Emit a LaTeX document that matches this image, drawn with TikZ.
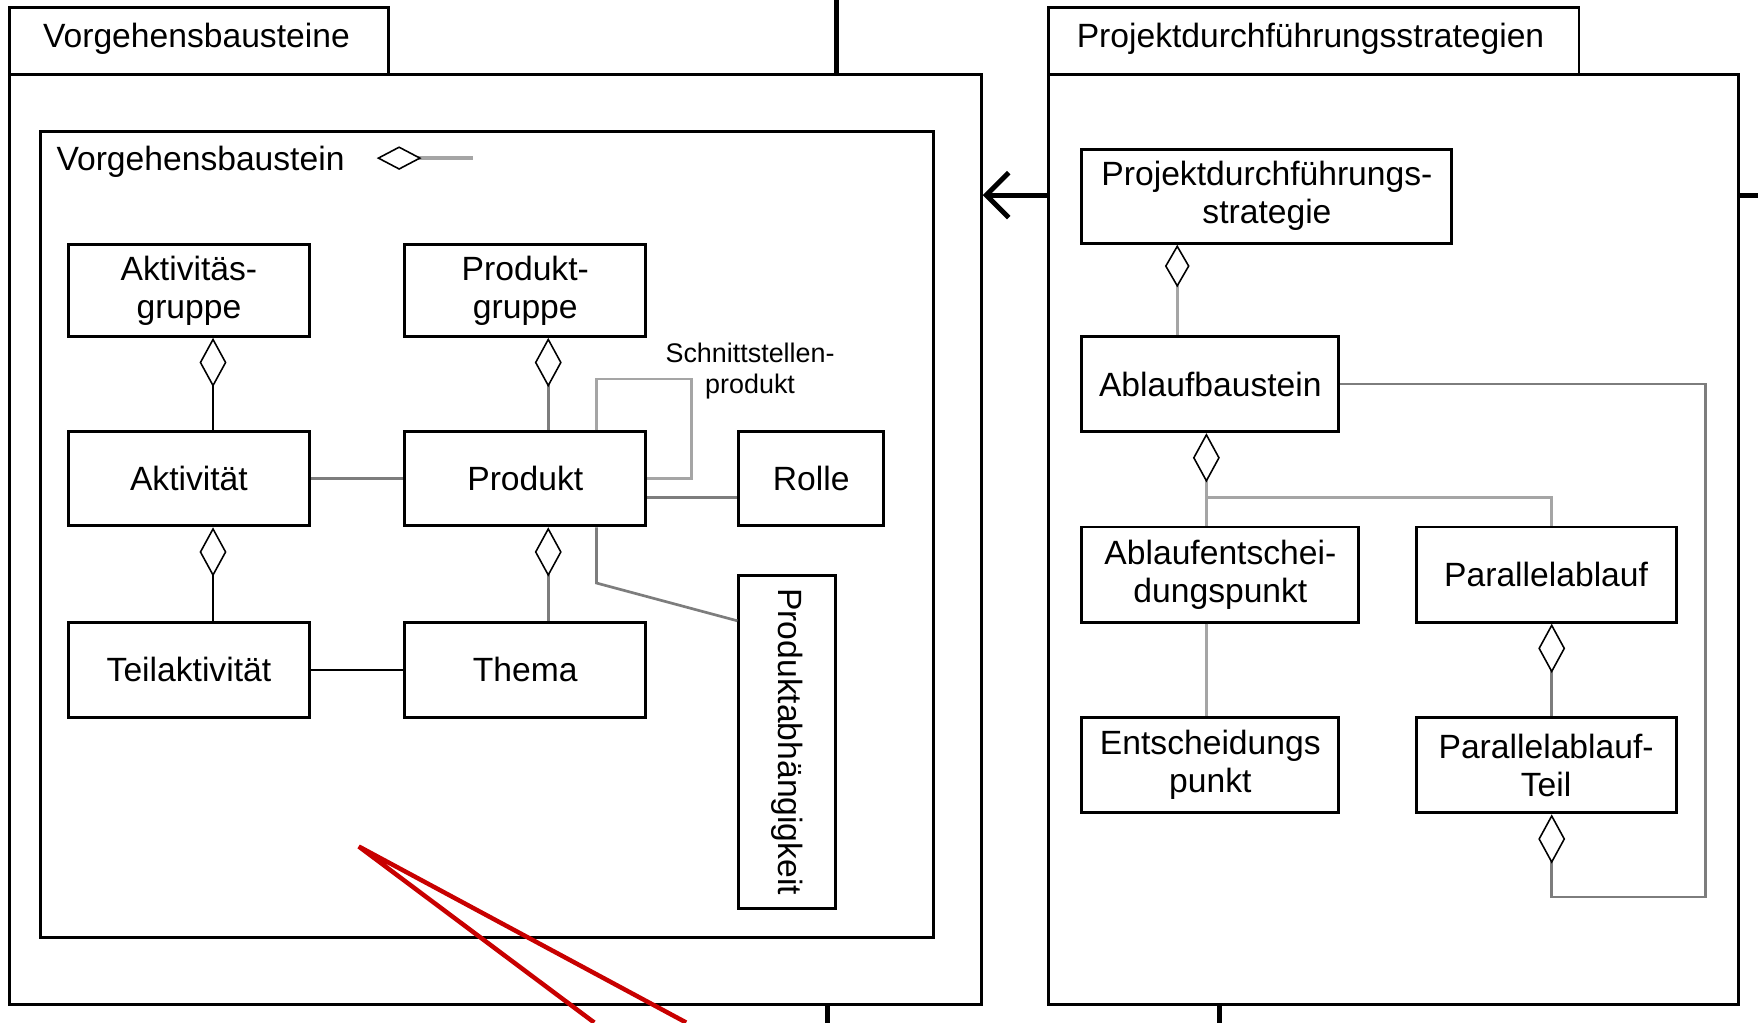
\documentclass[tikz,border=0pt]{standalone}
\usepackage{fontspec}
\usepackage{graphicx}
\setmainfont{Liberation Sans}
\usetikzlibrary{arrows.meta,calc}
\definecolor{midgray}{RGB}{125,125,125}
\definecolor{lightgray2}{RGB}{165,165,165}
\definecolor{redline}{RGB}{200,0,0}
\begin{document}
\begin{tikzpicture}[x=0.5pt,y=-0.5pt,
  box/.style={draw, line width=1.3pt, inner sep=0pt, align=center, font=\fontsize{15}{17}\selectfont},
  frame/.style={draw, line width=1.3pt, inner sep=0pt, anchor=north west},
  lbl/.style={inner sep=0pt, anchor=west, font=\fontsize{15}{17}\selectfont},
  blk/.style={line width=1.1pt, black},
  gry/.style={line width=1.2pt, midgray},
  lgry/.style={line width=1.2pt, lightgray2},
  agg/.style={{Diamond[open,length=22pt,width=12pt,line width=0.7pt,color=black]}-},
  aggs/.style={{Diamond[open,length=19pt,width=11pt,line width=0.7pt,color=black]}-},
  stub/.style={line width=2.2pt, black},
  redl/.style={line width=2pt, redline},
]
\useasboundingbox (0,0) rectangle (1568,912);

% packages
\node[frame, minimum width=169pt, minimum height=30pt] (ltab) at (7,5) {};
\node[lbl] (ltabl) at (38,34.5) {Vorgehensbausteine};
\node[frame, minimum width=433.5pt, minimum height=415pt] (lframe) at (7,65) {};
\node[frame, minimum width=398pt, minimum height=359.5pt] (inner) at (35,116) {};
\node[lbl] (innerl) at (50,144.5) {Vorgehensbaustein};
\coordinate (vbd) at (336,141);
\coordinate (vbe) at (422,141);
\draw[lgry, line width=1.6pt, {Diamond[open,length=20pt,width=10.5pt,line width=0.7pt,color=black]}-] (vbd) -- (vbe);

\node[frame, minimum width=236.5pt, minimum height=30pt] (rtab) at (934,5) {};
\node[lbl] (rtabl) at (960,34.5) {Projektdurchführungsstrategien};
\node[frame, minimum width=307.5pt, minimum height=415pt] (rframe) at (934,65) {};

% left boxes
\node[box, minimum width=107.5pt, minimum height=41pt] (AG) at (168.5,259) {Aktivitäs-\\gruppe};
\node[box, minimum width=107.5pt, minimum height=41pt] (PG) at (468.5,259) {Produkt-\\gruppe};
\node[box, minimum width=107.5pt, minimum height=42pt] (A) at (168.5,427) {Aktivität};
\node[box, minimum width=107.5pt, minimum height=42pt] (P) at (468.5,427) {Produkt};
\node[box, minimum width=64.5pt, minimum height=42pt] (R) at (723.5,427) {Rolle};
\node[box, minimum width=107.5pt, minimum height=42.5pt] (T) at (168.5,597.5) {Teilaktivität};
\node[box, minimum width=107.5pt, minimum height=42.5pt] (Th) at (468.5,597.5) {Thema};
\node[box, minimum width=43pt, minimum height=148.5pt] (PA) at (702,661.5) {\rotatebox{-90}{Produktabhängigkeit}};

% right boxes
\node[box, minimum width=165pt, minimum height=42pt] (S) at (1130,175) {Projektdurchführungs-\\strategie};
\node[box, minimum width=114.5pt, minimum height=42.5pt] (AB) at (1079.5,342.5) {Ablaufbaustein};
\node[box, minimum width=123.5pt, minimum height=42.5pt] (AE) at (1088.5,512.5) {Ablaufentschei-\\dungspunkt};
\node[box, minimum width=116pt, minimum height=42.5pt] (PL) at (1379,512.5) {Parallelablauf};
\node[box, minimum width=114.5pt, minimum height=42.5pt] (E) at (1079.5,682.5) {Entscheidungs\\punkt};
\node[box, minimum width=116pt, minimum height=42.5pt] (PT) at (1379,682.5) {Parallelablauf-\\Teil};

% left connectors
\draw[blk, agg] ([xshift=10.75pt]AG.south) -- ([xshift=10.75pt]A.north);
\draw[blk, agg] ([xshift=10.75pt]A.south) -- ([xshift=10.75pt]T.north);
\draw[gry, agg] ([xshift=10.25pt]PG.south) -- ([xshift=10.25pt]P.north);
\draw[gry, agg] ([xshift=10.25pt]P.south) -- ([xshift=10.25pt]Th.north);
\draw[gry] (A.east) -- (P.west);
\draw[blk] (T.east) -- (Th.west);
\draw[gry] ([yshift=-8.5pt]P.east) -- ([yshift=-8.5pt]P.east -| R.west);
\coordinate (loopc) at (617,338);
\draw[lgry] ([xshift=31.75pt]P.north) |- (loopc) |- (P.east);
\node[inner sep=0pt, align=center, font=\fontsize{12}{14}\selectfont] (sl) at (669,331) {Schnittstellen-\\produkt};
\coordinate (pabend) at (532,520);
\draw[gry] ([xshift=31.75pt]P.south) -- (pabend) -- ([yshift=-21pt]PA.north west);

% right connectors
\draw[lgry, aggs] ([xshift=-40pt]S.south) -- ([xshift=-40pt]S.south |- AB.north);
\coordinate (j) at (1076,444);
\draw[lgry, agg] ([xshift=-1.75pt]AB.south) -- (j);
\draw[lgry] (j) -| ([xshift=2.5pt]PL.north);
\draw[lgry] (j) -- (j |- AE.north);
\draw[lgry] (j |- AE.south) -- (j |- E.north);
\draw[gry, agg] ([xshift=2.5pt]PL.south) -- ([xshift=2.5pt]PT.north);
\coordinate (lc) at (1521,800);
\draw[gry, agg] ([xshift=2.5pt]PT.south) |- (lc) |- (AB.east);

% stubs and arrow
\coordinate (t1) at (746,0);
\draw[stub] (t1) -- (t1 |- lframe.north);
\coordinate (b1) at (738,912);
\draw[stub] (lframe.south -| b1) -- (b1);
\coordinate (r1) at (1568,174);
\draw[stub] (rframe.east |- r1) -- (r1);
\coordinate (b2) at (1088,912);
\draw[stub] (rframe.south -| b2) -- (b2);
\coordinate (ay) at (900,174);
\draw[stub, -{Straight Barb[length=10pt,width=20pt]}] (rframe.west |- ay) -- (lframe.east |- ay);

% red marks
\coordinate (apex) at (320,755);
\coordinate (re1) at (530,912);
\coordinate (re2) at (612,912);
\draw[redl] (re1) -- (apex) -- (re2);
\end{tikzpicture}
\end{document}
